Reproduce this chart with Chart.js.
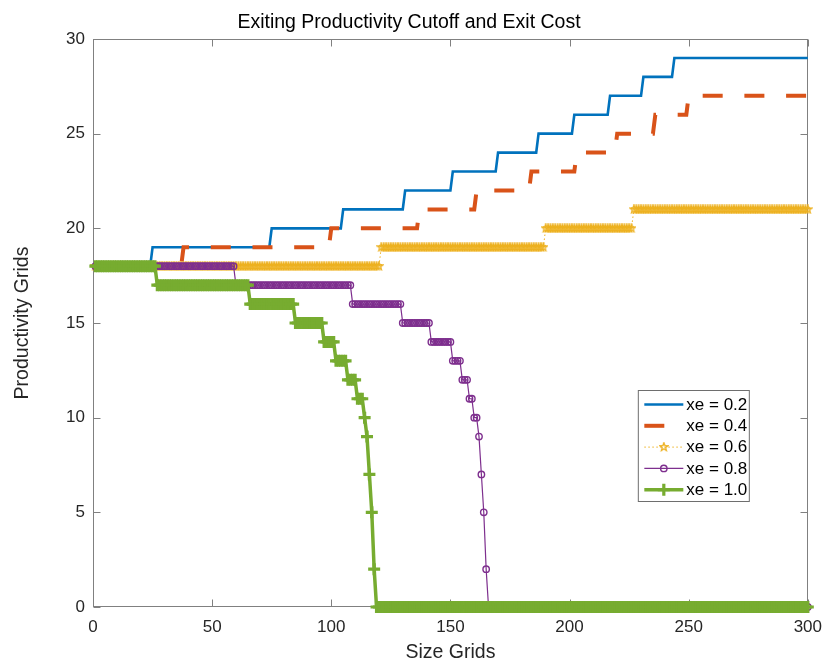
<!DOCTYPE html>
<html>
<head>
<meta charset="utf-8">
<script src="https://cdn.jsdelivr.net/npm/chart.js@4.4.0/dist/chart.umd.min.js"></script>
<style>
  html, body { margin: 0; padding: 0; background: #fff; }
</style>
</head>
<body>
<canvas id="myChart" width="832" height="662"></canvas>
<script>
// size grid index on the x axis
const sizeGrid = [];
for (let g = 1; g <= 300; g++) sizeGrid.push(g);

const xTicks = [0, 50, 100, 150, 200, 250, 300];
const yTicks = [0, 5, 10, 15, 20, 25, 30];
const seriesLabels = ['xe = 0.2', 'xe = 0.4', 'xe = 0.6', 'xe = 0.8', 'xe = 1.0'];

// each cutoff is a step: first size grid of a run, and the productivity grid it holds
const xe02Start = [1, 25, 75, 105, 131, 151, 170, 187, 202, 217, 231, 244];
const xe02Level = [18, 19, 20, 21, 22, 23, 24, 25, 26, 27, 28, 29];

const xe04Start = [1, 38, 100, 137, 161, 184, 203, 220, 236, 250];
const xe04Level = [18, 19, 20, 21, 22, 23, 24, 25, 26, 27];

const xe06Start = [1, 121, 190, 227];
const xe06Level = [18, 19, 20, 21];

const xe08Start = [1, 60, 109, 130, 142, 151, 155, 158, 160, 162, 163, 164, 165, 166];
const xe08Level = [18, 17, 16, 15, 14, 13, 12, 11, 10, 9, 7, 5, 2, 0];

const xe10Start = [1, 27, 66, 85, 97, 102, 107, 111, 114, 115, 116, 117, 118, 119];
const xe10Level = [18, 17, 16, 15, 14, 13, 12, 11, 10, 9, 7, 5, 2, 0];

const FONT = "'Liberation Sans', Arial, Helvetica, sans-serif";
const AXIS_COLOR = '#808080';
const TEXT_COLOR = '#262626';

function steps(starts, levels) {
  return sizeGrid.map(function (g) {
    let k = 0;
    while (k + 1 < starts.length && starts[k + 1] <= g) k++;
    return { x: g, y: levels[k] };
  });
}

function pentagram(size, color) {
  const c = document.createElement('canvas');
  c.width = size; c.height = size;
  const g = c.getContext('2d');
  const r = size / 2 - 0.7, ri = r * 0.42;
  g.beginPath();
  for (let k = 0; k < 10; k++) {
    const a = -Math.PI / 2 + k * Math.PI / 5;
    const rr = k % 2 ? ri : r;
    g.lineTo(size / 2 + rr * Math.cos(a), size / 2 + rr * Math.sin(a));
  }
  g.closePath();
  g.strokeStyle = color;
  g.lineWidth = 1.3;
  g.stroke();
  return c;
}
const star = pentagram(10, '#EDB120');

// box + inward ticks, like matlab axes
const boxAxes = {
  id: 'boxAxes',
  beforeDatasetsDraw(chart) {
    const { ctx, chartArea: a, scales } = chart;
    const L = Math.round(a.left) + 0.5, R = Math.round(a.right) - 0.5;
    const T = Math.round(a.top) + 0.5, B = Math.round(a.bottom) - 0.5;
    ctx.save();
    ctx.strokeStyle = AXIS_COLOR;
    ctx.lineWidth = 1;
    ctx.strokeRect(L, T, R - L, B - T);
    ctx.beginPath();
    scales.x.ticks.forEach(function (t) {
      const px = Math.round(scales.x.getPixelForValue(t.value)) + 0.5;
      ctx.moveTo(px, B); ctx.lineTo(px, B - 7);
      ctx.moveTo(px, T); ctx.lineTo(px, T + 7);
    });
    scales.y.ticks.forEach(function (t) {
      const py = Math.round(scales.y.getPixelForValue(t.value)) + 0.5;
      ctx.moveTo(L, py); ctx.lineTo(L + 7, py);
      ctx.moveTo(R, py); ctx.lineTo(R - 7, py);
    });
    ctx.stroke();
    ctx.restore();
  }
};

// legend box inside the axes, lower right
const boxLegend = {
  id: 'boxLegend',
  afterDraw(chart) {
    const { ctx, chartArea: a } = chart;
    const left = a.right - 169.5, top = a.top + 351.5, w = 111, h = 111;
    ctx.save();
    ctx.fillStyle = '#fff';
    ctx.fillRect(left, top, w, h);
    ctx.strokeStyle = '#6e6e6e';
    ctx.lineWidth = 1;
    ctx.strokeRect(left, top, w, h);
    chart.data.datasets.forEach(function (ds, i) {
      const y = top + 14 + i * 21.3;
      const x0 = left + 6, x1 = left + 45, xm = (x0 + x1) / 2;
      ctx.save();
      ctx.strokeStyle = ds.borderColor;
      ctx.lineWidth = ds.borderWidth;
      ctx.setLineDash(ds.borderDash || []);
      ctx.beginPath(); ctx.moveTo(x0, y); ctx.lineTo(x1, y); ctx.stroke();
      ctx.setLineDash([]);
      const ps = ds.pointStyle;
      if (ps instanceof HTMLCanvasElement) {
        ctx.drawImage(ps, xm - ps.width / 2, y - ps.height / 2);
      } else if (ps === 'circle' && ds.pointRadius > 0) {
        ctx.lineWidth = ds.pointBorderWidth;
        ctx.strokeStyle = ds.pointBorderColor;
        ctx.beginPath(); ctx.arc(xm, y, ds.pointRadius, 0, Math.PI * 2); ctx.stroke();
      } else if (ps === 'cross' && ds.pointRadius > 0) {
        ctx.lineWidth = ds.pointBorderWidth;
        ctx.strokeStyle = ds.pointBorderColor;
        const r = ds.pointRadius;
        ctx.beginPath();
        ctx.moveTo(xm - r, y); ctx.lineTo(xm + r, y);
        ctx.moveTo(xm, y - r); ctx.lineTo(xm, y + r);
        ctx.stroke();
      }
      ctx.restore();
      ctx.fillStyle = '#000';
      ctx.font = '17px ' + FONT;
      ctx.textBaseline = 'middle';
      ctx.textAlign = 'left';
      ctx.fillText(seriesLabels[i], left + 48, y + 0.5);
    });
    ctx.restore();
  }
};

new Chart(document.getElementById('myChart'), {
  type: 'line',
  data: {
    datasets: [
      {
        label: seriesLabels[0], data: steps(xe02Start, xe02Level),
        borderColor: '#0072BD', borderWidth: 2.6, pointRadius: 0, pointStyle: false,
        order: 4, clip: false
      },
      {
        label: seriesLabels[1], data: steps(xe04Start, xe04Level),
        borderColor: '#D95319', borderWidth: 4, borderDash: [20, 21.7], borderDashOffset: -7,
        pointRadius: 0, pointStyle: false, order: 3, clip: false
      },
      {
        label: seriesLabels[2], data: steps(xe06Start, xe06Level),
        borderColor: '#EDB120', borderWidth: 1, borderDash: [1.5, 2.5],
        pointStyle: star, pointRadius: 4, pointBorderColor: '#EDB120',
        order: 2, clip: false
      },
      {
        label: seriesLabels[3], data: steps(xe08Start, xe08Level),
        borderColor: '#7E2F8E', borderWidth: 1.2,
        pointStyle: 'circle', pointRadius: 3.2, pointBorderWidth: 1.4,
        pointBorderColor: '#7E2F8E', pointBackgroundColor: 'rgba(0,0,0,0)',
        order: 1, clip: false
      },
      {
        label: seriesLabels[4], data: steps(xe10Start, xe10Level),
        borderColor: '#77AC30', borderWidth: 3.5,
        pointStyle: 'cross', pointRadius: 6, pointBorderWidth: 3.2,
        pointBorderColor: '#77AC30',
        order: 0, clip: false
      }
    ]
  },
  options: {
    responsive: false,
    animation: false,
    events: [],
    layout: { padding: { left: 0, right: 14, top: 0, bottom: 0 } },
    elements: { line: { tension: 0, fill: false } },
    plugins: {
      legend: { display: false },
      tooltip: { enabled: false },
      title: {
        display: true,
        text: 'Exiting Productivity Cutoff and Exit Cost',
        color: '#000',
        font: { family: FONT, size: 19.5, weight: 'normal' },
        padding: { top: 11, bottom: 4.6 }
      }
    },
    scales: {
      x: {
        type: 'linear', min: 0, max: 300,
        afterBuildTicks: function (s) { s.ticks = xTicks.map(function (v) { return { value: v }; }); },
        afterFit: function (s) { s.height = 55; },
        grid: { display: false, drawTicks: false },
        border: { display: false },
        ticks: { color: TEXT_COLOR, font: { family: FONT, size: 17 }, padding: 10, maxRotation: 0, autoSkip: false },
        title: { display: true, text: 'Size Grids', color: TEXT_COLOR, font: { family: FONT, size: 19.5 }, padding: { top: 0, bottom: -2 } }
      },
      y: {
        type: 'linear', min: 0, max: 30,
        afterBuildTicks: function (s) { s.ticks = yTicks.map(function (v) { return { value: v }; }); },
        afterFit: function (s) { s.width = 93; },
        grid: { display: false, drawTicks: false },
        border: { display: false },
        ticks: { color: TEXT_COLOR, font: { family: FONT, size: 17 }, padding: 8 },
        title: { display: true, text: 'Productivity Grids', color: TEXT_COLOR, font: { family: FONT, size: 19.5 }, padding: { top: 10.5, bottom: 0 } }
      }
    }
  },
  plugins: [boxAxes, boxLegend]
});
</script>
</body>
</html>
